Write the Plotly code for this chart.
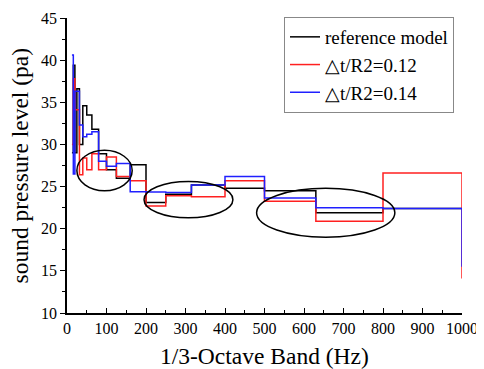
import plotly.graph_objects as go

bands = [12.5, 16, 20, 25, 31.5, 40, 50, 63, 80, 100, 125, 160, 200, 250, 315, 400, 500, 630, 800, 1000]
ref_model = [29, 39.4, 29, 36.6, 30, 34.6, 33.5, 31.8, 28.9, 27.0, 26.0, 27.6, 23.1, 24.1, 25.2, 24.8, 24.5, 21.9, 22.4, 22.4]
dt_012 = [30, 37.8, 34.1, 34.1, 26.4, 28.4, 27.0, 28.9, 27.0, 28.5, 26.2, 25.7, 22.7, 23.9, 23.8, 25.7, 23.25, 20.9, 26.6, 14.1]
dt_014 = [40.6, 26.5, 36.3, 36.3, 32.3, 30.9, 31.2, 31.5, 28.0, 27.4, 27.75, 24.4, 24.35, 24.3, 25.2, 26.2, 23.65, 22.5, 22.4, 15.5]

series_names = ["reference model", "\u25b3t/R2=0.12", "\u25b3t/R2=0.14"]
colors = ["#000000", "#ff2020", "#2020ff"]

x_ticks = list(range(0, 1001, 100))
y_ticks = list(range(10, 46, 5))
x_title = "1/3-Octave Band (Hz)"
y_title = "sound pressure level (pa)"

# ellipses highlighting regions (x0, x1, y0, y1 in data units)
ellipses = [(25, 165, 24.5, 29.3), (195, 420, 21.3, 25.6), (480, 830, 19.0, 24.8)]

fig = go.Figure()
for name, ys, c in zip(series_names, [ref_model, dt_012, dt_014], colors):
    fig.add_trace(go.Scatter(x=bands, y=ys, mode="lines", name=name,
                             line=dict(color=c, width=1.5, shape="hv")))

for x0, x1, y0, y1 in ellipses:
    fig.add_shape(type="circle", xref="x", yref="y", x0=x0, x1=x1, y0=y0, y1=y1,
                  line=dict(color="black", width=1.5))

font = "Liberation Serif, Times New Roman, serif"
OFF = 8  # page body margin
W, H = 484 - OFF, 369 - OFF
L, R, T = 67 - OFF, 22, 18 - OFF
B = H + OFF - 313
pw, ph = W - L - R, H - T - B

fig.add_annotation(text=x_title, xref="paper", yref="paper", x=0.5, y=-(356 - 313) / ph,
                   xanchor="center", yanchor="middle", showarrow=False, font=dict(size=23.5))
fig.add_annotation(text=y_title, xref="paper", yref="paper", x=(19 - 67) / pw, y=0.5,
                   xanchor="center", yanchor="middle", textangle=-90, showarrow=False,
                   font=dict(size=23.5))

fig.update_layout(
    width=W, height=H,
    margin=dict(l=L, r=R, t=T, b=B, autoexpand=False),
    paper_bgcolor="white", plot_bgcolor="white",
    font=dict(family=font, color="black", size=16),
    showlegend=True,
    legend=dict(x=(284 - 67) / pw, y=1.0 + 1 / ph, xanchor="left", yanchor="top",
                bordercolor="#888888", borderwidth=1, bgcolor="white",
                font=dict(family=font, size=19), tracegroupgap=0,
                itemwidth=30),
    xaxis=dict(range=[0, 1000], tickvals=x_ticks, automargin=False,
               showgrid=False, zeroline=False, showline=True, linecolor="black", linewidth=1.5,
               ticks="inside", ticklen=5, tickcolor="black", tickwidth=1.2,
               minor=dict(tickvals=list(range(50, 1000, 100)), ticks="inside", ticklen=3, tickcolor="black"),
               tickfont=dict(size=16)),
    yaxis=dict(range=[10, 45], tickvals=y_ticks, automargin=False,
               showgrid=False, zeroline=False, showline=True, linecolor="black", linewidth=1.5,
               ticks="outside", ticklen=5, tickcolor="black", tickwidth=1.2,
               minor=dict(tickvals=[12.5 + 5 * i for i in range(7)], ticks="outside", ticklen=3, tickcolor="black"),
               tickfont=dict(size=16)),
)

fig.write_html("out.html")
